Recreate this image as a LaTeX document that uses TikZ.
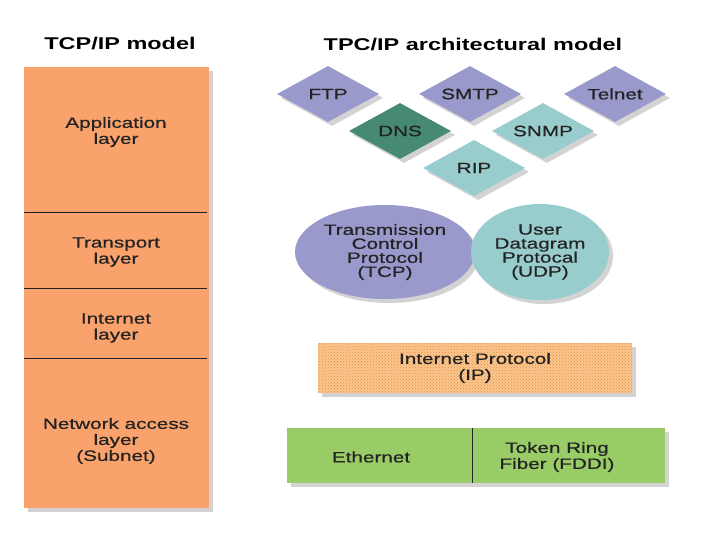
\documentclass[tikz,border=0pt]{standalone}
\usepackage{fontspec}
\setmainfont[FakeStretch=1.38]{Liberation Sans}
\newfontfamily\labelfont[FakeStretch=1.38,FakeBold=0.6]{Liberation Sans}
\usetikzlibrary{shapes,shadows,patterns}

\definecolor{layerorange}{RGB}{249,162,108}
\definecolor{protopurple}{RGB}{153,153,204}
\definecolor{prototeal}{RGB}{153,204,204}
\definecolor{dnsteal}{RGB}{70,138,118}
\definecolor{linkgreen}{RGB}{153,204,102}
\definecolor{ipfill}{RGB}{250,198,140}
\definecolor{ipdots}{RGB}{232,140,76}
\definecolor{labelgray}{RGB}{35,35,35}

\begin{document}
\begin{tikzpicture}[x=1pt,y=-1pt]
\tikzstyle{shadowed}=[drop shadow={shadow xshift=4pt, shadow yshift=-4pt, opacity=.35}]
\tikzstyle{txt}=[text=labelgray, align=center, font=\labelfont\fontsize{15}{16}\selectfont]
\tikzstyle{title}=[text=black, font=\bfseries\fontsize{17}{20}\selectfont]
\tikzstyle{stack}=[rectangle, fill=layerorange, shadowed, minimum width=185pt, minimum height=441pt]
\tikzstyle{app}=[diamond, aspect=1.7, inner sep=1pt, minimum width=102pt, minimum height=56pt, shadowed, txt]
\tikzstyle{proto}=[ellipse, inner sep=0pt, shadowed, txt, font=\labelfont\fontsize{15}{14}\selectfont]
\tikzstyle{bar}=[rectangle, shadowed]
\tikzstyle{divider}=[draw=labelgray, line width=0.8pt]
\useasboundingbox (0,0) rectangle (720,540);

	% left: the model
	\node[title] (modeltitle) at (120,44) {TCP/IP model};
	\node[stack] (layers) at (116.5,287.5) {};
	\node[txt] (applayer) at (116,132) {Application\\layer};
	\node[txt] (translayer) at (116,252) {Transport\\layer};
	\node[txt] (netlayer) at (116,328) {Internet\\layer};
	\node[txt] (accesslayer) at (116,441) {Network access\\layer\\(Subnet)};
	\draw[divider] (24,212) -- (207,212);
	\draw[divider] (24,288) -- (207,288);
	\draw[divider] (24,358) -- (207,358);

	% right: the protocols
	\node[title] (archtitle) at (473,45) {TPC/IP architectural model};
	\node[app, fill=protopurple] (ftp) at (328,94) {FTP};
	\node[app, fill=protopurple] (smtp) at (470,94) {SMTP};
	\node[app, fill=protopurple] (telnet) at (615,94) {Telnet};
	\node[app, fill=dnsteal] (dns) at (400,131) {DNS};
	\node[app, fill=prototeal] (snmp) at (543,131) {SNMP};
	\node[app, fill=prototeal] (rip) at (474,168) {RIP};

	\node[proto, fill=protopurple, minimum width=180pt, minimum height=94pt] (tcp) at (385,252) {Transmission\\Control\\Protocol\\(TCP)};
	\node[proto, fill=prototeal, minimum width=138pt, minimum height=96pt] (udp) at (540,252) {User\\Datagram\\Protocal\\(UDP)};

	\node[bar, fill=ipfill, postaction={pattern=crosshatch dots, pattern color=ipdots}, minimum width=314pt, minimum height=50pt] (ip) at (475,368) {};
	\node[txt] (iplabel) at (475,368) {Internet Protocol\\(IP)};

	\node[bar, fill=linkgreen, minimum width=378pt, minimum height=55pt] (link) at (476,455.5) {};
	\node[txt] (ethernet) at (371,457) {Ethernet};
	\node[txt] (fddi) at (557,457) {Token Ring\\Fiber (FDDI)};
	\draw[divider] (472,428) -- (472,483);
\end{tikzpicture}
\end{document}
